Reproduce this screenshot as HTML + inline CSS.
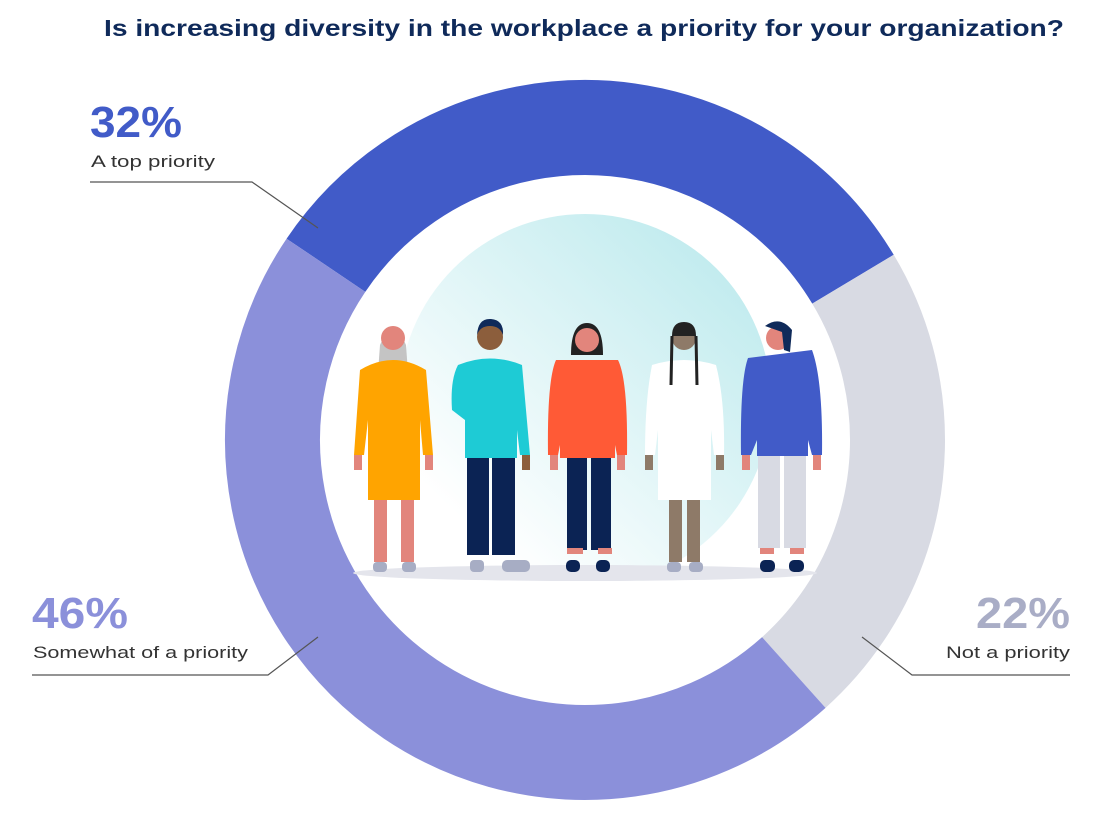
<!DOCTYPE html>
<html><head><meta charset="utf-8"><style>
html,body{margin:0;padding:0;background:#fff;overflow:hidden;width:1102px;height:818px;}
svg{display:block;font-family:"Liberation Sans",sans-serif;}
</style></head><body>
<svg width="1102" height="818" viewBox="0 0 1102 818">
<defs>
<linearGradient id="bg" x1="0.85" y1="0.15" x2="0.2" y2="0.85">
<stop offset="0" stop-color="#c3ecef"/><stop offset="1" stop-color="#ffffff"/>
</linearGradient>
<clipPath id="cl"><rect x="300" y="150" width="600" height="423"/></clipPath>
</defs>
<text x="104" y="36" textLength="960" lengthAdjust="spacingAndGlyphs" font-size="23" font-weight="bold" fill="#0f2a5a">Is increasing diversity in the workplace a priority for your organization?</text>
<g transform="rotate(-146 585 440)" fill="none" stroke-width="95">
<circle cx="585" cy="440" r="312.5" stroke="#415bc8" stroke-dasharray="627.4 1336"/>
<circle cx="585" cy="440" r="312.5" stroke="#d8dae3" stroke-dasharray="0 627.4 431 2000"/>
<circle cx="585" cy="440" r="312.5" stroke="#8b90da" stroke-dasharray="0 1058.4 906 2000"/>
</g>
<circle cx="585" cy="400" r="186" fill="url(#bg)" clip-path="url(#cl)"/>
<ellipse cx="585" cy="573" rx="232" ry="8" fill="#e4e5ec"/>
<!-- person 1 -->
<path d="M380 345 Q393 315 406 345 L410 400 L376 400Z" fill="#c4c4c4"/>
<circle cx="393" cy="338" r="12" fill="#e2857c"/>
<rect x="374" y="490" width="13" height="72" fill="#e2857c"/><rect x="401" y="490" width="13" height="72" fill="#e2857c"/>
<path d="M360 370 Q393 350 426 370 L433 455 L423 455 L420 420 L420 500 L368 500 L368 420 L364 455 L354 455Z" fill="#ffa400"/>
<rect x="354" y="455" width="8" height="15" fill="#e2857c"/><rect x="425" y="455" width="8" height="15" fill="#e2857c"/>
<rect x="373" y="562" width="14" height="10" rx="4" fill="#a7adc4"/><rect x="402" y="562" width="14" height="10" rx="4" fill="#a7adc4"/>
<!-- person 2 -->
<circle cx="490" cy="337" r="13" fill="#8c5e3c"/><path d="M477 335 Q478 318 491 319 Q504 320 503 335 Q500 326 490 326 Q480 326 477 335Z" fill="#0f2a5a"/>
<rect x="467" y="455" width="22" height="100" fill="#0b2354"/><rect x="492" y="455" width="23" height="100" fill="#0b2354"/>
<path d="M458 365 Q490 352 522 365 L530 455 L520 455 L517 430 L517 458 L465 458 L465 420 L452 410 Q450 380 458 365Z" fill="#1ecbd5"/>
<rect x="522" y="455" width="8" height="15" fill="#8c5e3c"/>
<rect x="470" y="560" width="14" height="12" rx="4" fill="#a7adc4"/><rect x="502" y="560" width="28" height="12" rx="5" fill="#a7adc4"/>
<!-- person 3 -->
<path d="M571 355 Q571 323 587 323 Q603 323 603 355Z" fill="#222"/>
<circle cx="587" cy="340" r="12" fill="#e2857c"/>
<rect x="567" y="455" width="20" height="95" fill="#0b2354"/><rect x="591" y="455" width="20" height="95" fill="#0b2354"/>
<rect x="567" y="548" width="16" height="6" fill="#e2857c"/><rect x="598" y="548" width="14" height="6" fill="#e2857c"/>
<path d="M556 360 L618 360 Q628 380 627 455 L617 455 L615 445 L615 458 L560 458 L560 445 L558 455 L548 455 Q547 380 556 360Z" fill="#ff5a36"/>
<rect x="550" y="455" width="8" height="15" fill="#e2857c"/><rect x="617" y="455" width="8" height="15" fill="#e2857c"/>
<rect x="566" y="560" width="14" height="12" rx="5" fill="#0b2354"/><rect x="596" y="560" width="14" height="12" rx="5" fill="#0b2354"/>
<!-- person 4 -->
<circle cx="684" cy="338" r="12" fill="#8e7a68"/><path d="M672 336 Q672 322 684 322 Q696 322 696 336Z" fill="#222"/>
<rect x="669" y="495" width="13" height="67" fill="#8e7a68"/><rect x="687" y="495" width="13" height="67" fill="#8e7a68"/>
<path d="M652 365 Q684 355 716 365 Q725 400 724 455 L714 455 L711 430 L711 500 L658 500 L658 430 L655 455 L645 455 Q645 400 652 365Z" fill="#fff"/>
<path d="M672 336 L671 385 M696 336 L697 385" stroke="#222" stroke-width="3"/>
<rect x="645" y="455" width="8" height="15" fill="#8e7a68"/><rect x="716" y="455" width="8" height="15" fill="#8e7a68"/>
<rect x="667" y="562" width="14" height="10" rx="4" fill="#a7adc4"/><rect x="689" y="562" width="14" height="10" rx="4" fill="#a7adc4"/>
<!-- person 5 -->
<circle cx="778" cy="338" r="12" fill="#e2857c"/><path d="M765 326 Q780 315 792 330 L790 352 L784 350 L782 332 Z" fill="#0f2a5a"/>
<rect x="758" y="453" width="22" height="95" fill="#d8dae3"/><rect x="784" y="453" width="22" height="95" fill="#d8dae3"/>
<rect x="760" y="548" width="14" height="6" fill="#e2857c"/><rect x="790" y="548" width="14" height="6" fill="#e2857c"/>
<path d="M748 358 L812 350 Q823 380 822 455 L812 455 L808 440 L808 456 L757 456 L757 440 L751 455 L741 455 Q740 380 748 358Z" fill="#415bc8"/>
<rect x="742" y="455" width="8" height="15" fill="#e2857c"/><rect x="813" y="455" width="8" height="15" fill="#e2857c"/>
<rect x="760" y="560" width="15" height="12" rx="5" fill="#0b2354"/><rect x="789" y="560" width="15" height="12" rx="5" fill="#0b2354"/>
<!-- leaders -->
<polyline points="90,182 252,182 318,228" fill="none" stroke="#555" stroke-width="1.2"/>
<polyline points="32,675 268,675 318,637" fill="none" stroke="#555" stroke-width="1.2"/>
<polyline points="1070,675 912,675 862,637" fill="none" stroke="#555" stroke-width="1.2"/>
<text x="90" y="137" textLength="92" lengthAdjust="spacingAndGlyphs" font-size="44" font-weight="bold" fill="#415bc8">32%</text>
<text x="91" y="167" textLength="124" lengthAdjust="spacingAndGlyphs" font-size="17" fill="#333">A top priority</text>
<text x="32" y="628" textLength="96" lengthAdjust="spacingAndGlyphs" font-size="44" font-weight="bold" fill="#8b90da">46%</text>
<text x="33" y="658" textLength="215" lengthAdjust="spacingAndGlyphs" font-size="17" fill="#333">Somewhat of a priority</text>
<text x="976" y="628" textLength="94" lengthAdjust="spacingAndGlyphs" font-size="44" font-weight="bold" fill="#a9adc6">22%</text>
<text x="946" y="658" textLength="124" lengthAdjust="spacingAndGlyphs" font-size="17" fill="#333">Not a priority</text>
</svg>
</body></html>
